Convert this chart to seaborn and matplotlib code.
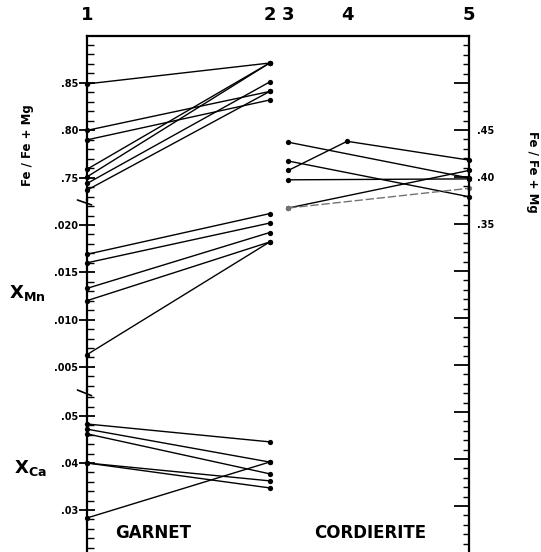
import numpy as np
import pandas as pd
import matplotlib
matplotlib.use("Agg")
import matplotlib.pyplot as plt
import seaborn as sns
from matplotlib.ticker import MultipleLocator, FuncFormatter

# profile columns: 1-2 garnet (core -> rim), 3-5 cordierite
col_labels = ["1", "2", "3", "4", "5"]
col_pos = [0.0, 0.478, 0.527, 0.681, 1.0]

# garnet Fe/(Fe+Mg), column 1 and column 2
garnet_fe_1 = [0.849, 0.800, 0.790, 0.759, 0.751, 0.744, 0.737]
garnet_fe_2 = [0.871, 0.841, 0.832, 0.871, 0.871, 0.851, 0.841]

# garnet X_Mn
garnet_mn_1 = [0.0169, 0.0160, 0.0133, 0.0120, 0.0063]
garnet_mn_2 = [0.0212, 0.0202, 0.0192, 0.0182, 0.0182]

# garnet X_Ca
garnet_ca_1 = [0.0483, 0.0472, 0.0462, 0.0400, 0.0400, 0.0283]
garnet_ca_2 = [0.0445, 0.0402, 0.0377, 0.0362, 0.0347, 0.0402]

# cordierite Fe/(Fe+Mg), columns 3, 4 (one sample only), 5
cord_3 = [0.437, 0.417, 0.407, 0.397, 0.367, 0.367]
cord_4 = [np.nan, np.nan, 0.438, np.nan, np.nan, np.nan]
cord_5 = [0.399, 0.379, 0.418, 0.398, 0.407, 0.388]
cord_trace = ["solid", "solid", "solid", "solid", "solid", "faint"]


def garnet_frame(c1, c2):
    n = len(c1)
    return pd.DataFrame({
        "sample": list(range(n)) * 2,
        "pos": [col_pos[0]] * n + [col_pos[1]] * n,
        "value": c1 + c2,
    })


def cord_frame():
    rows = []
    for i in range(len(cord_3)):
        for p, vals in ((col_pos[2], cord_3), (col_pos[3], cord_4), (col_pos[4], cord_5)):
            if not np.isnan(vals[i]):
                rows.append({"sample": i, "pos": p, "value": vals[i], "trace": cord_trace[i]})
    return pd.DataFrame(rows)


sns.set_style("white")
plt.rcParams["font.family"] = ["DejaVu Sans"]
plt.rcParams["font.weight"] = "bold"
plt.rcParams["mathtext.fontset"] = "dejavusans"
for k in ("text.color", "axes.labelcolor", "xtick.color", "ytick.color"):
    plt.rcParams[k] = "black"

fig = plt.figure(figsize=(5.41, 5.52), dpi=100)
W, H = 541.0, 552.0
x0, x1 = 87, 469


def add_axes(ytop, ybot):
    return fig.add_axes([x0 / W, 1 - ybot / H, (x1 - x0) / W, (ybot - ytop) / H])


ax_fe = add_axes(36, 200)
ax_mn = add_axes(200, 390)
ax_ca = add_axes(390, 552)
ax_cd = add_axes(36, 552)

line_kw = dict(x="pos", y="value", units="sample", estimator=None, sort=False,
               color="black", lw=1.0, marker="o", markersize=3.8,
               markeredgewidth=0, legend=False, clip_on=False)

panels = [
    (ax_fe, garnet_frame(garnet_fe_1, garnet_fe_2), (0.7266, 0.8995), 0.05, 0.01, "{:.2f}"),
    (ax_mn, garnet_frame(garnet_mn_1, garnet_mn_2), (0.00256, 0.02264), 0.005, 0.001, "{:.3f}"),
    (ax_ca, garnet_frame(garnet_ca_1, garnet_ca_2), (0.02106, 0.05553), 0.01, 0.002, "{:.2f}"),
]

for ax, df, ylim, major, minor, fmt in panels:
    sns.lineplot(data=df, ax=ax, **line_kw)
    ax.set_xlim(0, 1)
    ax.set_ylim(*ylim)
    ax.set_facecolor("none")
    for s in ("top", "right", "bottom"):
        ax.spines[s].set_visible(False)
    ax.spines["left"].set_color("black")
    ax.spines["left"].set_linewidth(1.6)
    ax.set_xticks([])
    ax.set_xlabel("")
    ax.set_ylabel("")
    ax.yaxis.set_major_locator(MultipleLocator(major))
    ax.yaxis.set_minor_locator(MultipleLocator(minor))
    ax.yaxis.set_major_formatter(FuncFormatter(lambda v, p, f=fmt: f.format(v).lstrip("0")))
    ax.tick_params(axis="y", which="major", direction="inout", length=11, width=1.3,
                   labelsize=7, pad=1, color="black", left=True)
    ax.tick_params(axis="y", which="minor", direction="in", length=5, width=1.0,
                   color="black", left=True)
    for lab in ax.get_yticklabels():
        lab.set_fontweight("bold")

# break marks on the left axis
for ax in (ax_fe, ax_mn):
    ax.plot([-0.025, 0.012], [0.0, -0.03], transform=ax.transAxes, color="black",
            lw=1.2, clip_on=False)

# cordierite, right scale
cdf = cord_frame()
sns.lineplot(data=cdf, x="pos", y="value", units="sample", estimator=None, sort=False,
             hue="trace", palette={"solid": "black", "faint": "0.45"},
             style="trace", dashes={"solid": "", "faint": (6, 2)},
             lw=1.0, marker="o", markersize=3.8, markeredgewidth=0,
             legend=False, clip_on=False, ax=ax_cd)
ax_cd.set_xlim(0, 1)
ax_cd.set_ylim(0.0011, 0.55)
ax_cd.set_facecolor("none")
ax_cd.spines["left"].set_visible(False)
ax_cd.spines["bottom"].set_visible(False)
for s in ("top", "right"):
    ax_cd.spines[s].set_color("black")
    ax_cd.spines[s].set_linewidth(1.6)
ax_cd.set_xlabel("")
ax_cd.set_ylabel("")
ax_cd.yaxis.tick_right()
ax_cd.yaxis.set_major_locator(MultipleLocator(0.05))
ax_cd.yaxis.set_minor_locator(MultipleLocator(0.01))
ax_cd.yaxis.set_major_formatter(
    FuncFormatter(lambda v, p: ("{:.2f}".format(v).lstrip("0") if 0.34 < v < 0.46 else "")))
ax_cd.tick_params(axis="y", which="major", direction="in", length=11, width=1.3,
                  labelsize=7, pad=6, color="black", right=True, left=False)
ax_cd.tick_params(axis="y", which="minor", direction="in", length=4, width=1.0,
                  color="black", right=True, left=False)

# column numbers along the top
ax_cd.set_xticks(col_pos)
ax_cd.set_xticklabels(col_labels)
ax_cd.tick_params(axis="x", which="both", bottom=False, top=False, labelbottom=False,
                  labeltop=True, labelsize=13, pad=5)
for lab in ax_cd.get_xticklabels():
    lab.set_fontweight("bold")

# side and panel labels
fig.text(27 / W, 1 - 145 / H, "Fe / Fe + Mg", rotation=90, ha="center", va="center",
         fontsize=8.5, fontweight="bold")
fig.text(532 / W, 1 - 172 / H, "Fe / Fe + Mg", rotation=-90, ha="center", va="center",
         fontsize=8.5, fontweight="bold")
fig.text(27 / W, 1 - 293 / H, r"$\mathbf{X}_{\mathbf{Mn}}$", ha="center", va="center",
         fontsize=13)
fig.text(30 / W, 1 - 468 / H, r"$\mathbf{X}_{\mathbf{Ca}}$", ha="center", va="center",
         fontsize=13)
fig.text(153 / W, 1 - 533 / H, "GARNET", ha="center", va="center", fontsize=12,
         fontweight="bold")
fig.text(370 / W, 1 - 533 / H, "CORDIERITE", ha="center", va="center", fontsize=12,
         fontweight="bold")

fig.savefig("out.png", dpi=100, facecolor="white")
